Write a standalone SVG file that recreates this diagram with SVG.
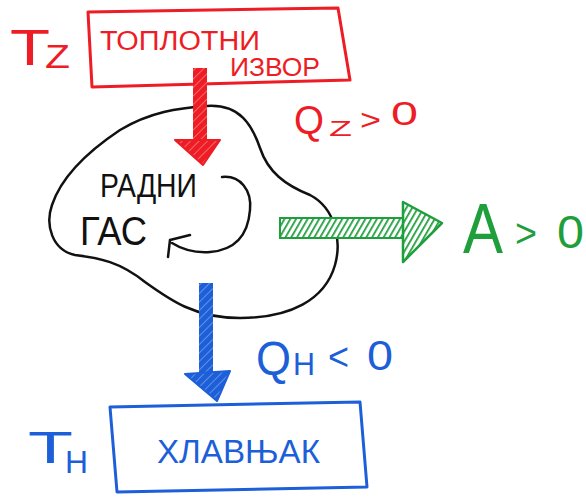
<svg xmlns="http://www.w3.org/2000/svg" width="586" height="497" viewBox="0 0 586 497">
<style>
  text { font-family: "Liberation Sans", "DejaVu Sans", sans-serif; }
  .red { fill: #ee1c24; }
  .blue { fill: #1c5fd8; }
  .green { fill: #1f9e3c; }
  .black { fill: #111; }
  .boxr { fill: none; stroke: #ee1c24; stroke-width: 3; stroke-linejoin: round; }
  .boxb { fill: none; stroke: #1c5fd8; stroke-width: 3; stroke-linejoin: round; }
  .line { fill: none; stroke: #111; stroke-width: 2.5; stroke-linecap: round; stroke-linejoin: round; }
</style>
<defs>
  <pattern id="hatchR" width="6" height="6" patternUnits="userSpaceOnUse" patternTransform="rotate(45)">
    <rect width="6" height="6" fill="#ee1c24"/>
    <line x1="0" y1="0" x2="0" y2="6" stroke="#ffb0b0" stroke-width="1"/>
  </pattern>
  <pattern id="hatchB" width="6" height="6" patternUnits="userSpaceOnUse" patternTransform="rotate(45)">
    <rect width="6" height="6" fill="#1c5fd8"/>
    <line x1="0" y1="0" x2="0" y2="6" stroke="#a9c4f5" stroke-width="1"/>
  </pattern>
  <pattern id="hatchG" width="5" height="5" patternUnits="userSpaceOnUse" patternTransform="rotate(30)">
    <rect width="5" height="5" fill="#ffffff"/>
    <line x1="0" y1="0" x2="0" y2="5" stroke="#1f9e3c" stroke-width="3.5"/>
  </pattern>
</defs>

<g id="source">
  <path class="boxr" d="M88,12 L338,8 L350,80 L92,87 Z"/>
  <text class="red" x="100" y="50" font-size="27" textLength="160" lengthAdjust="spacingAndGlyphs">ТОПЛОТНИ</text>
  <text class="red" x="230" y="76" font-size="25" textLength="90" lengthAdjust="spacingAndGlyphs">ИЗВОР</text>
  <text class="red" x="10" y="65" font-size="50" textLength="40" lengthAdjust="spacingAndGlyphs">T</text>
  <text class="red" x="45" y="68" font-size="34" textLength="25" lengthAdjust="spacingAndGlyphs">Z</text>
</g>

<g id="gas">
  <path class="line" d="M207,106 C240,104 252,125 260,148 C268,172 285,185 310,195 C335,208 342,240 335,265 C325,300 290,318 240,318 C195,318 170,300 145,282 C120,262 100,258 75,255 C52,250 45,225 52,205 C62,175 90,150 120,130 C150,112 178,108 207,106 Z"/>
  <text class="black" x="100" y="197" font-size="33" textLength="97" lengthAdjust="spacingAndGlyphs">РАДНИ</text>
  <text class="black" x="80" y="245" font-size="40" textLength="67" lengthAdjust="spacingAndGlyphs">ГАС</text>
  <path class="line" d="M222,177 C240,175 252,190 250,210 C248,235 235,250 210,252 C195,253 183,250 172,243"/>
  <path class="line" d="M168,257 L170,240 L190,235"/>
</g>

<g id="sink">
  <path class="boxb" d="M110,407 L360,402 L367,487 L117,492 Z"/>
  <text class="blue" x="157" y="463" font-size="34" textLength="163" lengthAdjust="spacingAndGlyphs">ХЛАВЊАК</text>
  <text class="blue" x="28" y="463" font-size="44" textLength="45" lengthAdjust="spacingAndGlyphs">T</text>
  <text class="blue" x="65" y="473" font-size="32" textLength="23" lengthAdjust="spacingAndGlyphs">H</text>
</g>

<g id="connectors">
  <g id="heat-in">
    <rect x="193" y="68" width="14" height="74" fill="url(#hatchR)"/>
    <polygon points="175,140 220,140 203,165" fill="url(#hatchR)" stroke="#ee1c24" stroke-width="2" stroke-linejoin="round"/>
  </g>
  <g id="work-out">
    <rect x="280" y="218" width="124" height="20" fill="url(#hatchG)" stroke="#1f9e3c" stroke-width="2"/>
    <polygon points="403,202 442,223 403,262" fill="url(#hatchG)" stroke="#1f9e3c" stroke-width="2.5" stroke-linejoin="round"/>
  </g>
  <g id="heat-out">
    <rect x="199" y="283" width="14" height="91" fill="url(#hatchB)"/>
    <polygon points="185,374 230,371 217,401" fill="url(#hatchB)" stroke="#1c5fd8" stroke-width="2" stroke-linejoin="round"/>
  </g>
</g>

<g id="labels">
  <text class="red" x="294" y="134" font-size="40" textLength="30" lengthAdjust="spacingAndGlyphs">Q</text>
  <text class="red" x="329" y="136" font-size="22" textLength="23" lengthAdjust="spacingAndGlyphs">Z</text>
  <text class="red" x="360" y="130" font-size="30" textLength="21" lengthAdjust="spacingAndGlyphs">&gt;</text>
  <text class="red" x="391" y="125" font-size="34" textLength="27" lengthAdjust="spacingAndGlyphs">0</text>

  <text class="green" x="463" y="253" font-size="70" textLength="40" lengthAdjust="spacingAndGlyphs">A</text>
  <text class="green" x="515" y="247" font-size="40" textLength="22" lengthAdjust="spacingAndGlyphs">&gt;</text>
  <text class="green" x="557" y="248" font-size="46" textLength="27" lengthAdjust="spacingAndGlyphs">0</text>

  <text class="blue" x="256" y="375" font-size="48" textLength="35" lengthAdjust="spacingAndGlyphs">Q</text>
  <text class="blue" x="293" y="375" font-size="32" textLength="22" lengthAdjust="spacingAndGlyphs">H</text>
  <text class="blue" x="328" y="370" font-size="38" textLength="21" lengthAdjust="spacingAndGlyphs">&lt;</text>
  <text class="blue" x="367" y="370" font-size="42" textLength="26" lengthAdjust="spacingAndGlyphs">0</text>
</g>
</svg>
